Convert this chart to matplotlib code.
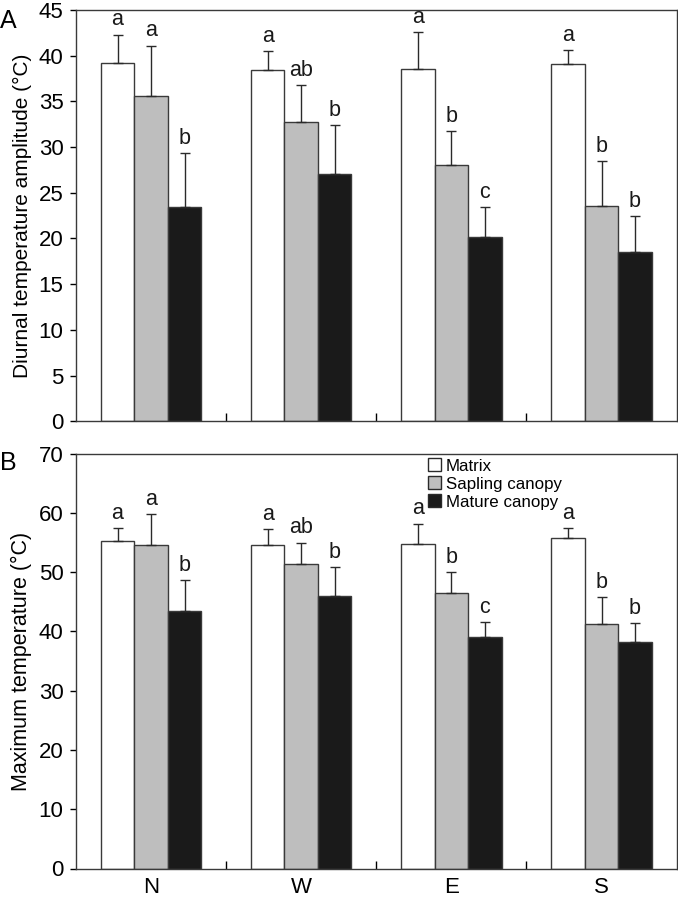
import numpy as np
import matplotlib
matplotlib.use("Agg")
import matplotlib.pyplot as plt
from matplotlib.patches import Patch

plt.rcParams['font.family'] = ['Liberation Sans', 'DejaVu Sans']

# Données
sites = ['N', 'W', 'E', 'S']
series = ['Matrix', 'Sapling canopy', 'Mature canopy']
colors = ['white', '#bebebe', '#1a1a1a']

amp_mean = [[39.2, 38.4, 38.5, 39.1],
            [35.6, 32.7, 28.0, 23.5],
            [23.4, 27.0, 20.1, 18.5]]
amp_err = [[3.1, 2.1, 4.1, 1.5],
           [5.5, 4.1, 3.7, 5.0],
           [5.9, 5.4, 3.3, 3.9]]
amp_letters = [['a', 'a', 'a', 'a'],
               ['a', 'ab', 'b', 'b'],
               ['b', 'b', 'c', 'b']]

max_mean = [[55.3, 54.6, 54.8, 55.7],
            [54.6, 51.4, 46.4, 41.2],
            [43.4, 46.0, 39.1, 38.2]]
max_err = [[2.1, 2.6, 3.4, 1.7],
           [5.2, 3.6, 3.6, 4.6],
           [5.3, 4.9, 2.5, 3.2]]
max_letters = [['a', 'a', 'a', 'a'],
               ['a', 'ab', 'b', 'b'],
               ['b', 'b', 'c', 'b']]

fig = plt.figure(figsize=(6.78, 9.0), dpi=100)
ax_a = fig.add_axes([0.112, 0.532, 0.886, 0.457])
ax_b = fig.add_axes([0.112, 0.035, 0.886, 0.461])

x = np.arange(len(sites))
w = 0.223


def draw_panel(ax, means, errs, letters, ymax, step, ylabel, lab_size):
    for i in range(3):
        pos = x + (i - 1) * w
        ax.bar(pos, means[i], w, color=colors[i], edgecolor='#3a3a3a', linewidth=1.0, zorder=2)
        ax.errorbar(pos, means[i], yerr=[np.zeros(len(sites)), errs[i]], fmt='none',
                    ecolor='#2a2a2a', elinewidth=1.0, capsize=3.5, capthick=1.0, zorder=3)
        for j in range(len(sites)):
            ax.annotate(letters[i][j], (pos[j], means[i][j] + errs[i][j]),
                        xytext=(0, 3), textcoords='offset points',
                        ha='center', va='bottom', fontsize=15.5, color='#1a1a1a')
    ax.set_xlim(-0.5, 3.5)
    ax.set_ylim(0, ymax)
    ax.set_yticks(np.arange(0, ymax + 1, step))
    ax.set_xticks(x)
    ax.set_xticks([0.5, 1.5, 2.5], minor=True)
    ax.tick_params(axis='x', which='major', length=0, labelsize=16, pad=6)
    ax.tick_params(axis='x', which='minor', direction='in', length=6, width=1)
    ax.tick_params(axis='y', direction='out', length=4, width=1, labelsize=16, pad=5)
    ax.set_ylabel(ylabel, fontsize=lab_size, labelpad=5)
    for s in ax.spines.values():
        s.set_color('#3a3a3a')
        s.set_linewidth(1.0)


draw_panel(ax_a, amp_mean, amp_err, amp_letters, 45, 5, 'Diurnal temperature amplitude (°C)', 15)
ax_a.set_xticklabels([])
draw_panel(ax_b, max_mean, max_err, max_letters, 70, 10, 'Maximum temperature (°C)', 15.5)
ax_b.set_xticklabels(sites)

handles = [Patch(facecolor=c, edgecolor='#2a2a2a', linewidth=1.0) for c in colors]
ax_b.legend(handles, series, loc='upper left', bbox_to_anchor=(0.566, 1.017), frameon=False,
            fontsize=12.2, handlelength=0.75, handleheight=0.8, handletextpad=0.3,
            labelspacing=0.15, borderpad=0.2)

fig.text(0.0, 0.99, 'A', fontsize=18, ha='left', va='top')
fig.text(0.0, 0.499, 'B', fontsize=18, ha='left', va='top')

fig.savefig('out.png', dpi=100)
